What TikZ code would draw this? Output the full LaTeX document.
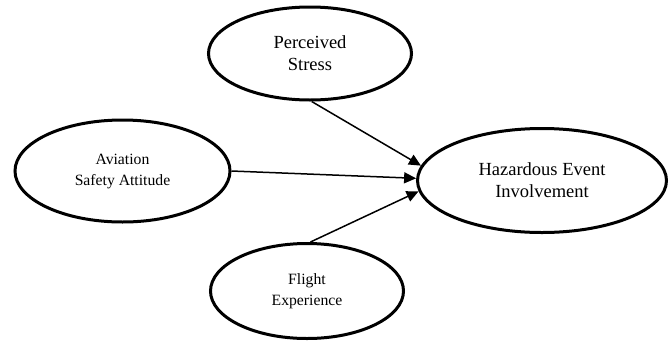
\documentclass[tikz,border=0pt]{standalone}
\usepackage{fontspec}
\setmainfont{Liberation Serif}
\usetikzlibrary{shapes.geometric,arrows.meta}
\begin{document}
\begin{tikzpicture}[x=1pt,y=1pt,
  oval/.style={ellipse,draw,line width=3pt,inner sep=0pt,align=center},
  bigtext/.style={font=\fontsize{18.5}{22}\selectfont},
  smalltext/.style={font=\fontsize{15.7}{21}\selectfont},
  link/.style={line width=1.5pt,-{Triangle[length=12pt,width=11pt]}}]
\useasboundingbox (0,0) rectangle (670,-341);
\node[oval,bigtext,minimum width=203pt,minimum height=93pt] (ps) at (310,-53.5) {Perceived\\Stress};
\node[oval,smalltext,minimum width=215pt,minimum height=102pt] (asa) at (122.5,-171) {Aviation\\Safety Attitude};
\node[oval,bigtext,minimum width=249pt,minimum height=104pt] (hei) at (542,-180.5) {Hazardous Event\\Involvement};
\node[oval,smalltext,minimum width=193pt,minimum height=95pt] (fe) at (307,-291) {Flight\\Experience};
\draw[link] (ps.272) -- (hei.173);
\draw[link] (asa.east) -- (hei.179);
\draw[link] (fe.86) -- (hei.185);
\end{tikzpicture}
\end{document}
